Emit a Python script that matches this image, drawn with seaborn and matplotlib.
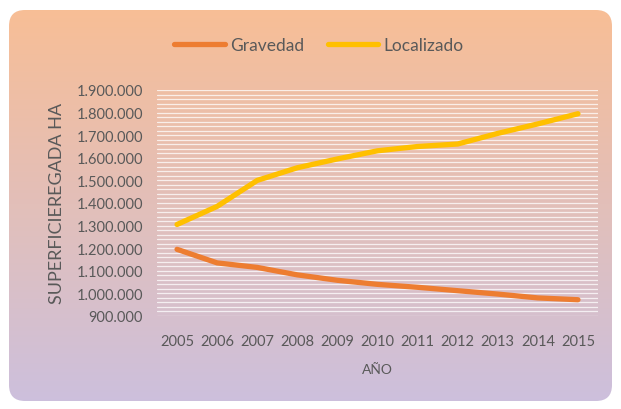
import numpy as np
import pandas as pd
import matplotlib
matplotlib.use("Agg")
import matplotlib.pyplot as plt
import seaborn as sns
from matplotlib.patches import FancyBboxPatch
from matplotlib.ticker import MultipleLocator, FuncFormatter
from matplotlib.lines import Line2D

years = ["2005", "2006", "2007", "2008", "2009", "2010", "2011", "2012", "2013", "2014", "2015"]
gravedad = [1195000, 1135000, 1115000, 1082000, 1058000, 1040000, 1027000, 1012000, 997000, 980000, 972000]
localizado = [1305000, 1385000, 1500000, 1556000, 1595000, 1631000, 1650000, 1661000, 1708000, 1750000, 1795000]
series_names = ["Gravedad", "Localizado"]
colors = ["#ed7d31", "#ffc000"]

df = pd.DataFrame({
    "year": years * 2,
    "value": gravedad + localizado,
    "serie": [series_names[0]] * len(years) + [series_names[1]] * len(years),
})

sns.set_theme(style="white")
plt.rcParams["font.family"] = ["Lato", "DejaVu Sans"]

W, H = 621, 410
fig = plt.figure(figsize=(W / 100, H / 100), dpi=100)

# gradient rounded background
bg = fig.add_axes([0, 0, 1, 1])
bg.set_xlim(0, W)
bg.set_ylim(0, H)
bg.axis("off")
top = np.array([249, 190, 148]) / 255
bot = np.array([204, 192, 222]) / 255
t = np.linspace(0, 1, 256)[:, None]
grad = (top[None, :] * (1 - t) + bot[None, :] * t)[:, None, :]
im = bg.imshow(grad, extent=(0, W, 0, H), aspect="auto", origin="upper")
patch = FancyBboxPatch((9, 8), 603, 391, boxstyle="round,pad=0,rounding_size=16",
                       transform=bg.transData, facecolor="none", edgecolor="none")
bg.add_patch(patch)
im.set_clip_path(patch)

ax = fig.add_axes([157 / W, 1 - 317 / H, (598 - 157) / W, (317 - 91) / H])
ax.set_facecolor("none")
sns.lineplot(data=df, x="year", y="value", hue="serie", palette=colors,
             linewidth=3.8, ax=ax, legend=False, sort=False)
ax.set_xlim(-0.5, len(years) - 0.5)
ax.set_ylim(900000, 1900000)
ax.yaxis.set_major_locator(MultipleLocator(100000))
ax.yaxis.set_minor_locator(MultipleLocator(20000))
ax.yaxis.set_major_formatter(FuncFormatter(lambda v, p: f"{int(v):,}".replace(",", ".")))
ax.grid(axis="y", which="both", color="white", linewidth=0.9, alpha=0.75)
ax.set_axisbelow(True)
for s in ax.spines.values():
    s.set_visible(False)
ax.tick_params(axis="both", which="both", length=0, labelcolor="#595959")
ax.tick_params(axis="x", labelsize=10.5, pad=13)
ax.tick_params(axis="y", labelsize=10.5, pad=10)
ax.set_xlabel("AÑO", fontsize=10, color="#595959", labelpad=11)
ax.set_ylabel("SUPERFICIEREGADA HA", fontsize=13, color="#595959", labelpad=8)

handles = [Line2D([], [], color=c, linewidth=3.8) for c in colors]
fig.legend(handles, series_names, loc="center", bbox_to_anchor=(319 / W, 1 - 46 / H),
           ncol=2, frameon=False, fontsize=12.5, handlelength=2.9, handletextpad=0.3,
           columnspacing=1.4, labelcolor="#595959")

fig.savefig("out.png", dpi=100, facecolor="white")
